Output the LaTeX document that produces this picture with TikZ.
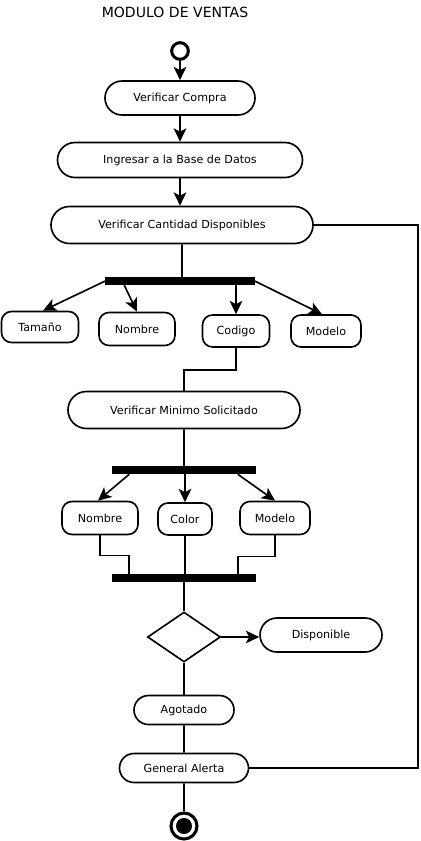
\documentclass[tikz,border=0pt]{standalone}
\usepackage{fontspec}
\setmainfont{DejaVu Sans}
\usepackage{tikz}
\usetikzlibrary{positioning}
\usetikzlibrary{calc}
\usetikzlibrary{arrows.meta}
\usetikzlibrary{shapes.misc,shapes.geometric}
\tikzset{act/.style={draw,rounded rectangle,inner sep=0pt,line width=1.4pt,font=\fontsize{9.5}{11}\selectfont}}
\tikzset{obj/.style={draw,rounded corners=0.3cm,inner sep=0pt,line width=1.4pt,font=\fontsize{9.5}{11}\selectfont}}
\tikzset{bar/.style={fill=black,inner sep=0pt,minimum height=0.24cm}}
\tikzset{flow/.style={line width=1.4pt,>={Stealth[length=0.4cm,width=0.38cm,inset=0.1cm]}}}

\begin{document}
\begin{tikzpicture}[x=0.03cm,y=-0.03cm]
\useasboundingbox (0,0) rectangle (421,841);
\node[font=\fontsize{12}{14}\selectfont] (title) at (175,12) {MODULO DE VENTAS};
\node[circle,draw,line width=2.6pt,minimum size=0.5cm,inner sep=0pt] (start) at (180,51) {};
\node[act,minimum width=4.5cm,minimum height=1.02cm] (vc) at (180,98) {Verificar Compra};
\node[act,minimum width=7.35cm,minimum height=1.05cm] (ibd) at (180,160) {Ingresar a la Base de Datos};
\node[act,minimum width=7.86cm,minimum height=1.11cm] (vcd) at (182,225) {Verificar Cantidad Disponibles};
\node[bar,minimum width=4.47cm] (bar1) at (180,281) {};
\node[obj,minimum width=2.31cm,minimum height=0.93cm] (tam) at (40,327) {Tamaño};
\node[obj,minimum width=2.28cm,minimum height=0.99cm] (nom1) at (137,329) {Nombre};
\node[obj,minimum width=2.01cm,minimum height=0.96cm] (cod) at (236,331) {Codigo};
\node[obj,minimum width=2.1cm,minimum height=0.96cm] (mod1) at (326,331) {Modelo};
\node[act,minimum width=6.96cm,minimum height=1.11cm] (vms) at (184,410) {Verificar Minimo Solicitado};
\node[bar,minimum width=4.29cm] (bar2) at (184,470) {};
\node[obj,minimum width=2.28cm,minimum height=0.99cm] (nom2) at (100,518) {Nombre};
\node[obj,minimum width=1.62cm,minimum height=0.96cm] (col) at (185,519) {Color};
\node[obj,minimum width=2.1cm,minimum height=0.99cm] (mod2) at (275,518) {Modelo};
\node[bar,minimum width=4.29cm] (bar3) at (184,578) {};
\node[diamond,draw,line width=1.4pt,inner sep=0pt,minimum width=2.19cm,minimum height=1.5cm] (dec) at (184,637) {};
\node[act,minimum width=3.66cm,minimum height=1.02cm] (disp) at (321,635) {Disponible};
\node[act,minimum width=3cm,minimum height=0.87cm] (ago) at (184,710) {Agotado};
\node[act,minimum width=3.87cm,minimum height=0.87cm] (ga) at (184,768) {General Alerta};
\node[circle,draw,line width=2.6pt,minimum size=0.78cm,inner sep=0pt,
  path picture={\fill (path picture bounding box.center) circle (0.24cm);}] (stop) at (184,826) {};
\coordinate (loop) at (418,226);
%flujo principal
\draw[flow,->] (start) -- (vc);
\draw[flow,->] (vc) -- (ibd);
\draw[flow,->] (ibd.south) -- (ibd.south |- vcd.north);
\draw[flow] (vcd) -- (vcd.south |- bar1.north);
\draw[flow,->] (bar1.west) -- ($(tam.north)+(3,0)$);
\draw[flow,->] ($(bar1.south west)+(19,0)$) -- (nom1.north);
\draw[flow,->] (bar1.south -| cod.north) -- (cod.north);
\draw[flow,->] (bar1.east) -- ($(mod1.north)+(-4,0)$);
\draw[flow] (cod.south) -- ++(0,22) -| (vms.north);
\draw[flow] (vms) -- (vms.south |- bar2.north);
\draw[flow,->] ($(bar2.south west)+(17,0)$) -- ($(nom2.north)+(-2,0)$);
\draw[flow,->] (bar2.south -| col.north) -- (col.north);
\draw[flow,->] ($(bar2.south east)+(-18,0)$) -- (mod2.north);
\draw[flow] (nom2.south) -- ++(0,20) -| ($(bar3.north west)+(17,0)$);
\draw[flow] (col.south) -- (col.south |- bar3.north);
\draw[flow] (mod2.south) -- ++(0,21) -| ($(bar3.north east)+(-18,0)$);
\draw[flow] (bar3) -- (dec.north);
\draw[flow,->] (dec.east) -- (dec.east -| disp.west);
\draw[flow] (dec.south) -- (ago.north);
\draw[flow] (ago) -- (ga);
\draw[flow] (ga) -- (stop);
%retorno
\draw[flow] (vcd.east) -- (vcd.east -| loop) |- (ga.east);
\end{tikzpicture}
\end{document}
